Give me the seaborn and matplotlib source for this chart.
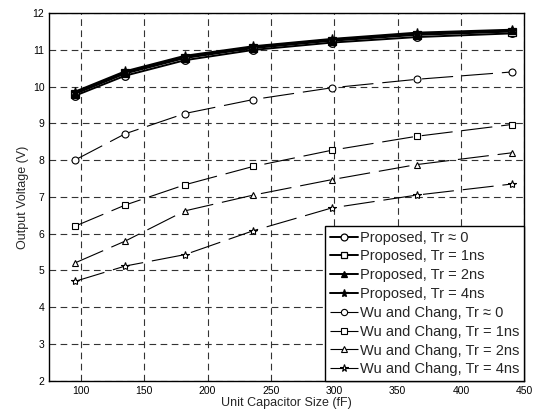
import pandas as pd
import matplotlib
matplotlib.use("Agg")
import matplotlib.pyplot as plt
import seaborn as sns

# capacitor sizes (fF)
cap_size = [95, 135, 182, 236, 298, 365, 440]

prop_tr0 = [9.75, 10.30, 10.72, 11.00, 11.20, 11.35, 11.45]
prop_tr1 = [9.80, 10.36, 10.78, 11.05, 11.25, 11.41, 11.50]
prop_tr2 = [9.83, 10.39, 10.81, 11.08, 11.28, 11.44, 11.53]
prop_tr4 = [9.86, 10.42, 10.84, 11.10, 11.30, 11.47, 11.55]

wu_tr0 = [8.00, 8.72, 9.27, 9.65, 9.97, 10.20, 10.40]
wu_tr1 = [6.20, 6.78, 7.33, 7.83, 8.27, 8.65, 8.97]
wu_tr2 = [5.20, 5.80, 6.62, 7.05, 7.47, 7.88, 8.20]
wu_tr4 = [4.70, 5.12, 5.43, 6.08, 6.70, 7.05, 7.35]

labels = ["Proposed, Tr \u2248 0", "Proposed, Tr = 1ns", "Proposed, Tr = 2ns", "Proposed, Tr = 4ns",
          "Wu and Chang, Tr \u2248 0", "Wu and Chang, Tr = 1ns", "Wu and Chang, Tr = 2ns", "Wu and Chang, Tr = 4ns"]
series = [prop_tr0, prop_tr1, prop_tr2, prop_tr4, wu_tr0, wu_tr1, wu_tr2, wu_tr4]
markers = ["o", "s", "^", "*", "o", "s", "^", "*"]

sns.set_style("white")
plt.rcParams['font.family'] = ['Liberation Sans', 'DejaVu Sans']

fig = plt.figure(figsize=(5.36, 4.12), dpi=100)
ax = fig.add_axes([0.092, 0.076, 0.886, 0.892])

for i, (lab, vals, m) in enumerate(zip(labels, series, markers)):
    df = pd.DataFrame({"x": cap_size, "y": vals})
    if i < 4:
        filled = (i >= 2)
        sns.lineplot(data=df, x="x", y="y", ax=ax, color="black", linewidth=1.4,
                     marker=m, markersize=5.5 if m != "*" else 6.5,
                     markerfacecolor="black" if filled else "white",
                     markeredgecolor="black", markeredgewidth=0.9, label=lab, zorder=9 + i)
    else:
        sns.lineplot(data=df, x="x", y="y", ax=ax, color="black", linewidth=0.8,
                     linestyle=(0, (28, 8)), marker=m,
                     markersize=5 if m != "*" else 6,
                     markerfacecolor="white", markeredgecolor="black",
                     markeredgewidth=0.8, label=lab, zorder=3)

ax.set_xlim(75, 450)
ax.set_ylim(2, 12)
ax.set_xticks(range(100, 451, 50))
ax.set_yticks(range(2, 13, 1))
ax.grid(True, color="#333333", linestyle=(0, (6, 4)), linewidth=0.8)
ax.tick_params(direction="in", length=3, labelsize=7.5, colors="black")
for s in ax.spines.values():
    s.set_color("black")
    s.set_linewidth(1.0)
ax.set_xlabel("Unit Capacitor Size (fF)", fontsize=9, labelpad=1)
ax.set_ylabel("Output Voltage (V)", fontsize=9, labelpad=3)

leg = ax.legend(loc="lower right", fontsize=10.5, frameon=True, fancybox=False,
                edgecolor="black", framealpha=1, handlelength=1.9, handletextpad=0.2,
                borderpad=0.3, labelspacing=0.33, borderaxespad=0, markerscale=0.9)
leg.get_frame().set_linewidth(1.0)

fig.savefig("out.png", dpi=100)
